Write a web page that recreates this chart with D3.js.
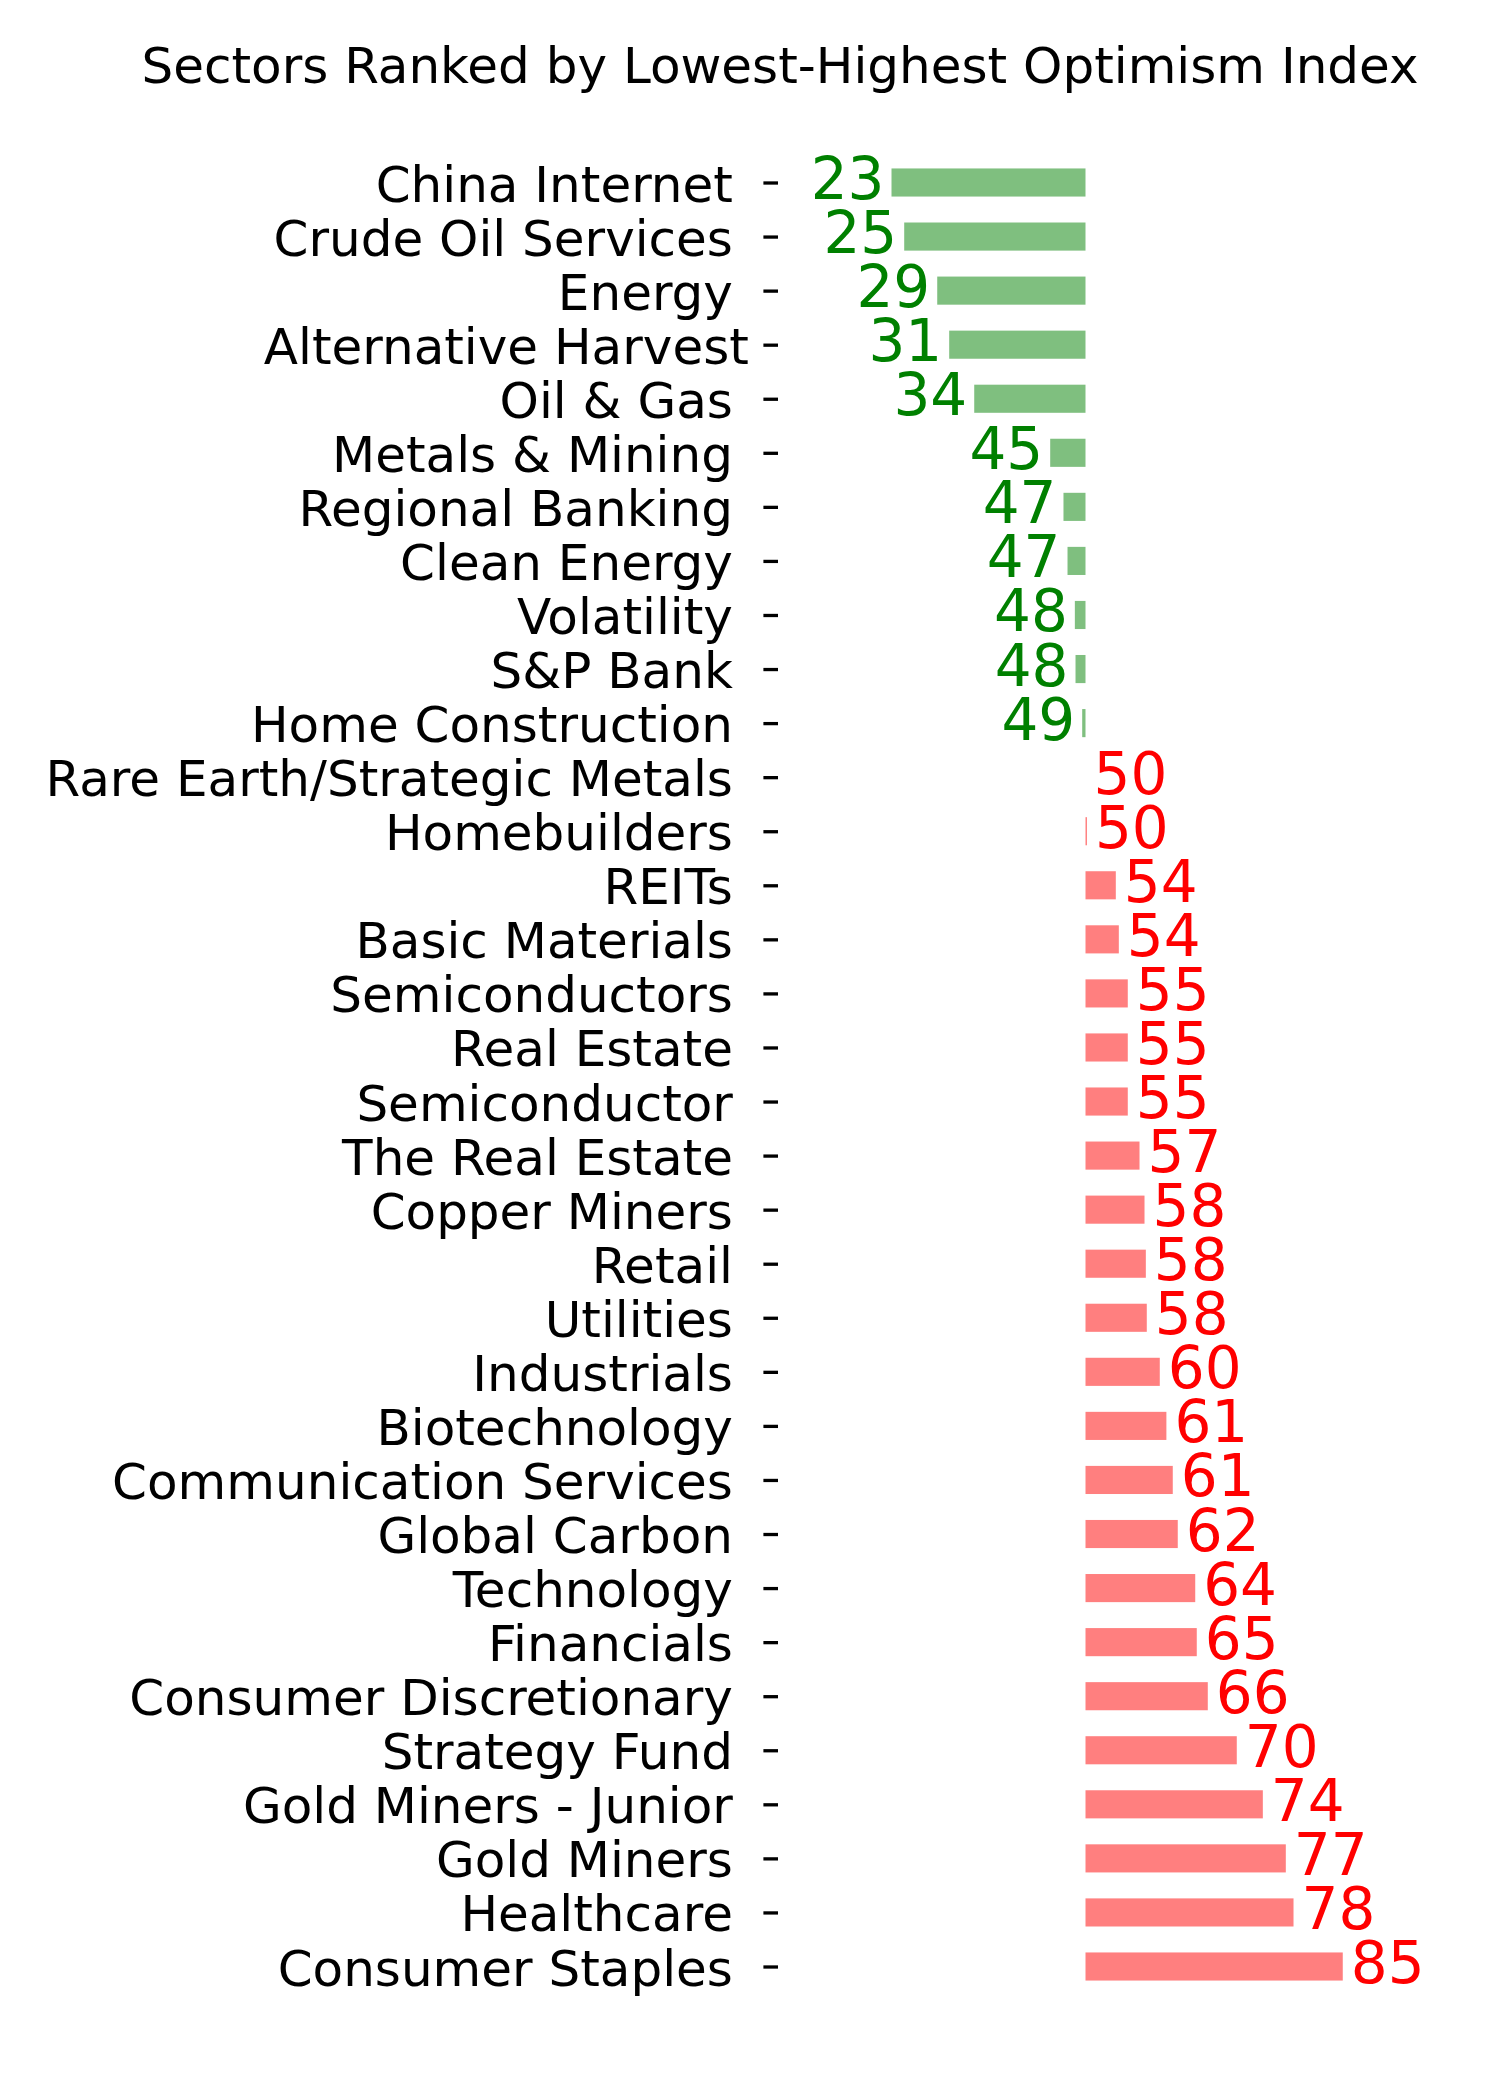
<!DOCTYPE html>
<html lang="en">
<head>
    <meta charset="UTF-8">
    <title>Sectors Ranked by Lowest-Highest Optimism Index</title>
    <style>
        body {
            margin: 0;
            background: white;
        }
        text {
            font-family: 'DejaVu Sans', sans-serif;
        }
        .tick-label {
            white-space: pre;
        }
    </style>
</head>
<body>
    <div id="container"></div>
    <script src="https://d3js.org/d3.v7.min.js"></script>
    <script>
        // sector names, top to bottom (trailing space kept as in the original labels)
        const sectors = [
            'China Internet ', 'Crude Oil Services ', 'Energy ', 'Alternative Harvest',
            'Oil & Gas ', 'Metals & Mining ', 'Regional Banking ', 'Clean Energy ',
            'Volatility ', 'S&P Bank ', 'Home Construction ', 'Rare Earth/Strategic Metals ',
            'Homebuilders ', 'REITs ', 'Basic Materials ', 'Semiconductors ',
            'Real Estate ', 'Semiconductor ', 'The Real Estate ', 'Copper Miners ',
            'Retail ', 'Utilities ', 'Industrials ', 'Biotechnology ',
            'Communication Services ', 'Global Carbon ', 'Technology ', 'Financials ',
            'Consumer Discretionary ', 'Strategy Fund ', 'Gold Miners - Junior ', 'Gold Miners ',
            'Healthcare ', 'Consumer Staples '
        ];

        // optimism index per sector
        const optimism = [
            23.57, 25.30, 29.80, 31.43,
            34.84, 45.19, 47.00, 47.55,
            48.55, 48.64, 49.55, 50.00,
            50.20, 54.13, 54.54, 55.76,
            55.76, 55.76, 57.36, 58.04,
            58.22, 58.35, 60.12, 61.02,
            61.89, 62.57, 64.95, 65.16,
            66.66, 70.61, 74.16, 77.29,
            78.34, 85.05
        ];

        const neutral = 50;
        const title = 'Sectors Ranked by Lowest-Highest Optimism Index';

        const width = 1500, height = 2100;
        const svg = d3.select('#container').append('svg')
            .attr('width', width).attr('height', height);

        svg.append('rect').attr('width', width).attr('height', height).attr('fill', 'white');

        // scales
        const xscale = d3.scaleLinear().domain([0, 100]).range([718.5, 1452.5]);
        const yscale = d3.scalePoint().domain(sectors).range([182.5, 1966.5]);
        const barH = yscale.step() * 0.52;

        // title
        svg.append('text')
            .attr('x', 780).attr('y', 83)
            .attr('text-anchor', 'middle')
            .attr('font-size', 50)
            .text(title);

        // y axis: ticks + labels, no spine
        const yAxis = svg.append('g')
            .attr('transform', 'translate(778,0)')
            .call(d3.axisLeft(yscale).tickSize(14.6).tickPadding(14.6));
        yAxis.select('.domain').remove();
        yAxis.selectAll('.tick line').attr('stroke', 'black').attr('stroke-width', 3.3);
        yAxis.selectAll('.tick text')
            .attr('class', 'tick-label')
            .attr('font-size', 50)
            .attr('font-family', "'DejaVu Sans', sans-serif")
            .attr('fill', 'black')
            .attr('dy', 18.5);

        const rows = sectors.map((s, i) => ({name: s, value: optimism[i]}));

        // bars from the neutral line
        svg.append('g').selectAll('rect')
            .data(rows).join('rect')
            .attr('x', d => Math.min(xscale(d.value), xscale(neutral)))
            .attr('width', d => Math.abs(xscale(d.value) - xscale(neutral)))
            .attr('y', d => yscale(d.name) - barH / 2)
            .attr('height', barH)
            .attr('fill', d => d.value < neutral ? 'green' : 'red')
            .attr('fill-opacity', 0.5);

        // value labels
        svg.append('g').selectAll('text')
            .data(rows).join('text')
            .attr('x', d => d.value < neutral ? xscale(d.value) - 7 : xscale(d.value) + 8)
            .attr('y', d => yscale(d.name) + 16.5)
            .attr('text-anchor', d => d.value < neutral ? 'end' : 'start')
            .attr('font-size', 58)
            .attr('fill', d => d.value < neutral ? 'green' : 'red')
            .text(d => Math.floor(d.value));
    </script>
</body>
</html>
